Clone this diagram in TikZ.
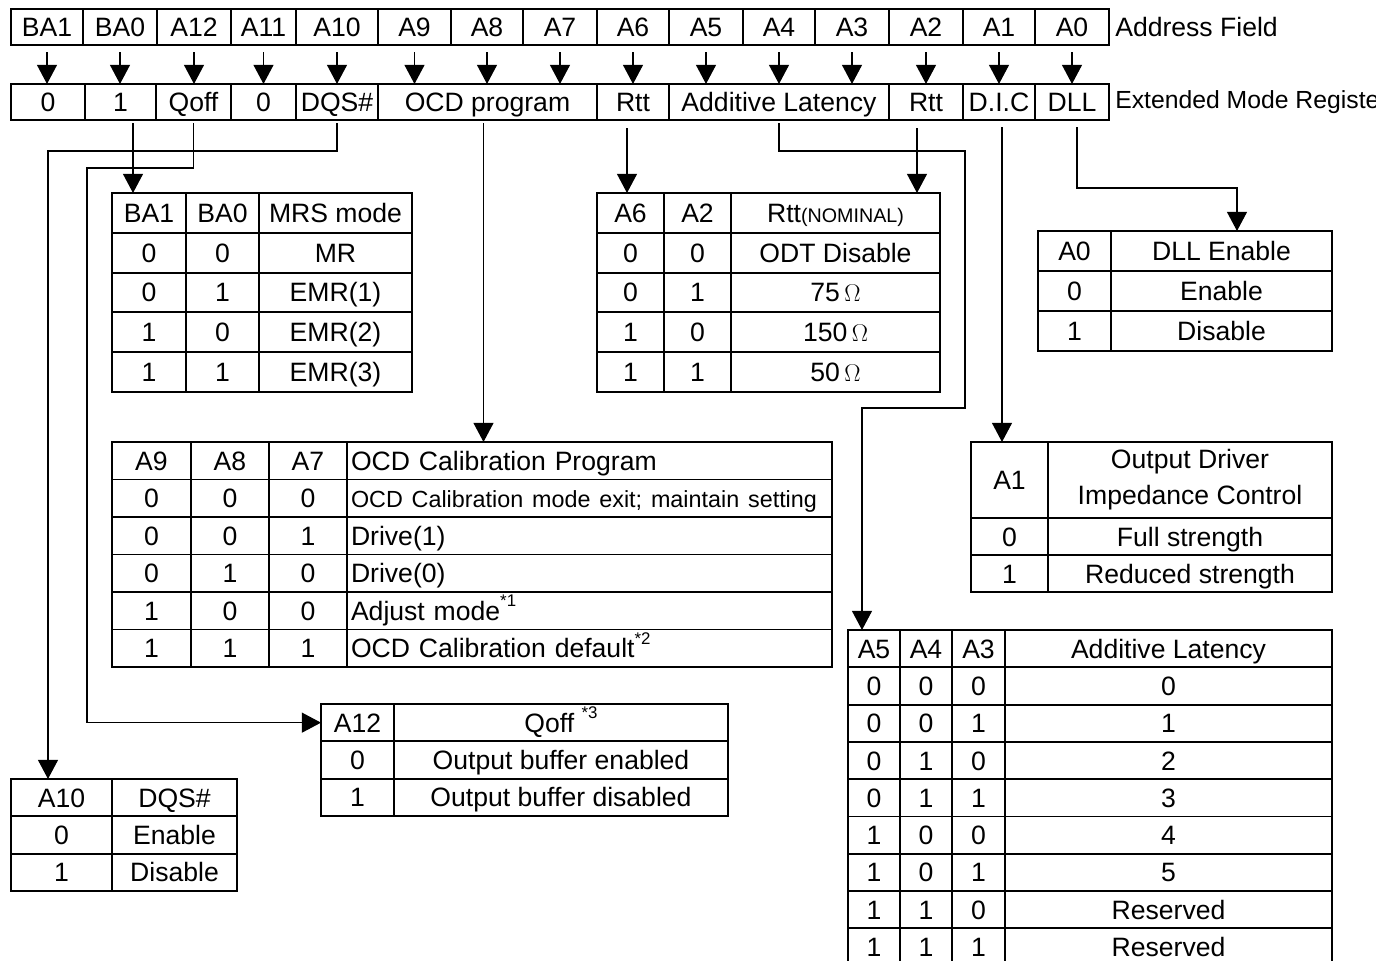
\documentclass[tikz,border=0pt]{standalone}
\usepackage{fontspec}
\setmainfont{Liberation Sans}
\usetikzlibrary{arrows.meta}

\newcommand{\bigtext}{\fontsize{18.9}{21}\selectfont}
\newcommand{\midtext}{\fontsize{16.6}{19}\selectfont}
\newcommand{\smalltext}{\fontsize{14}{15}\selectfont}
\newcommand{\fnmark}[1]{\raisebox{0.5em}{\fontsize{12}{12}\selectfont *#1}}

\tikzset{
    cell/.style 2 args={draw, line width=1.4pt, outer sep=0pt, inner sep=0pt,
        anchor=north west, minimum width=(#1)*0.025cm, minimum height=(#2)*0.025cm,
        text height=13.7pt, text depth=0.2pt, font=\bigtext},
    lefttext/.style={align=left, text width=477*0.025cm},
    wire/.style={line width=1pt},
    pointer/.style={-{Triangle[length=0.48cm, width=0.5cm]}}
}

\begin{document}
\begin{tikzpicture}[x=0.025cm, y=-0.025cm]

    \useasboundingbox (0, 0) rectangle (1376, 961);
    \clip (0, 0) rectangle (1376, 961);
    \fill[white] (0, 0) rectangle (1376, 961);

    % address field
    \foreach \xa/\xb/\lab [count=\i] in {11/83/BA1, 83/157/BA0, 157/231/A12, 231/296/A11,
        296/378/A10, 378/451/A9, 451/523/A8, 523/597/A7, 597/669/A6, 669/743/A5,
        743/815/A4, 815/889/A3, 889/963/A2, 963/1035/A1, 1035/1109/A0}
        \node[cell={\xb-\xa}{36}] (addr\i) at (\xa, 9) {\lab};
    \node[anchor=west, inner sep=0pt, font=\bigtext] (addrtitle) at (1115, 27) {Address Field};

    % extended mode register
    \node[cell={74}{36}] (emrBAone) at (11, 84) {0};
    \node[cell={71}{36}] (emrBAzero) at (85, 84) {1};
    \node[cell={75}{36}] (emrQoff) at (156, 84) {Qoff};
    \node[cell={65}{36}] (emrAeleven) at (231, 84) {0};
    \node[cell={82}{36}] (emrDQS) at (296, 84) {DQS\#};
    \node[cell={219}{36}] (emrOCD) at (378, 84) {OCD program};
    \node[cell={72}{36}] (emrRttSix) at (597, 84) {Rtt};
    \node[cell={220}{36}] (emrAL) at (669, 84) {Additive Latency};
    \node[cell={74}{36}] (emrRttTwo) at (889, 84) {Rtt};
    \node[cell={72}{36}] (emrDIC) at (963, 84) {D.I.C};
    \node[cell={74}{36}] (emrDLL) at (1035, 84) {DLL};
    \node[anchor=west, inner sep=0pt, font=\fontsize{17.6}{19}\selectfont] (emrtitle)
        at (1115, 102) {Extended Mode Register};

    \foreach \i in {1,...,15}
        \draw[wire, pointer] ([yshift=-0.175cm]addr\i.south) -- (addr\i.south |- emrOCD.north);

    % MRS mode
    \foreach \row/\va/\vb/\vc in {0/BA1/BA0/MRS mode, 1/0/0/MR, 2/0/1/EMR(1),
        3/1/0/EMR(2), 4/1/1/EMR(3)} {
        \node[cell={74}{39.8}] (mrs\row-a) at (112, 193+39.8*\row) {\va};
        \node[cell={73}{39.8}] (mrs\row-b) at (186, 193+39.8*\row) {\vb};
        \node[cell={153}{39.8}] (mrs\row-c) at (259, 193+39.8*\row) {\vc};
    }

    % Rtt
    \foreach \row/\va/\vb/\vc in {0/A6/A2/{Rtt{\smalltext(NOMINAL)}}, 1/0/0/ODT Disable,
        2/0/1/75\,$\Omega$, 3/1/0/150\,$\Omega$, 4/1/1/50\,$\Omega$} {
        \node[cell={67}{39.8}] (rtt\row-a) at (597, 193+39.8*\row) {\va};
        \node[cell={67}{39.8}] (rtt\row-b) at (664, 193+39.8*\row) {\vb};
        \node[cell={209}{39.8}] (rtt\row-c) at (731, 193+39.8*\row) {\vc};
    }

    % DLL
    \foreach \row/\va/\vb in {0/A0/DLL Enable, 1/0/Enable, 2/1/Disable} {
        \node[cell={73}{40}] (dll\row-a) at (1038, 231+40*\row) {\va};
        \node[cell={221}{40}] (dll\row-b) at (1111, 231+40*\row) {\vb};
    }

    % OCD program
    \foreach \row/\va/\vb/\vc/\vd in {0/A9/A8/A7/OCD Calibration Program,
        1/0/0/0/{\midtext OCD Calibration mode exit; maintain setting},
        2/0/0/1/Drive(1), 3/0/1/0/Drive(0), 4/1/0/0/Adjust mode\fnmark{1},
        5/1/1/1/OCD Calibration default\fnmark{2}} {
        \node[cell={79}{37.5}] (ocd\row-a) at (112, 442+37.5*\row) {\va};
        \node[cell={78}{37.5}] (ocd\row-b) at (191, 442+37.5*\row) {\vb};
        \node[cell={78}{37.5}] (ocd\row-c) at (269, 442+37.5*\row) {\vc};
        \node[cell={485}{37.5}, lefttext] (ocd\row-d) at (347, 442+37.5*\row) {\vd};
    }

    % D.I.C
    \node[cell={77}{76}] (dic0-a) at (971, 442) {A1};
    \node[cell={284}{76}, text height={}, text depth={}, align=center,
        font=\fontsize{18.9}{25.6}\selectfont] (dic0-b) at (1048, 442)
        {Output Driver\\Impedance Control};
    \foreach \row/\va/\vb in {1/0/Full strength, 2/1/Reduced strength} {
        \node[cell={77}{37}] (dic\row-a) at (971, 481+37*\row) {\va};
        \node[cell={284}{37}] (dic\row-b) at (1048, 481+37*\row) {\vb};
    }

    % additive latency
    \foreach \row/\va/\vb/\vc/\vd in {0/A5/A4/A3/Additive Latency, 1/0/0/0/0, 2/0/0/1/1,
        3/0/1/0/2, 4/0/1/1/3, 5/1/0/0/4, 6/1/0/1/5, 7/1/1/0/Reserved, 8/1/1/1/Reserved} {
        \node[cell={52}{37.3}] (al\row-a) at (848, 630+37.3*\row) {\va};
        \node[cell={52}{37.3}] (al\row-b) at (900, 630+37.3*\row) {\vb};
        \node[cell={53}{37.3}] (al\row-c) at (952, 630+37.3*\row) {\vc};
        \node[cell={327}{37.3}] (al\row-d) at (1005, 630+37.3*\row) {\vd};
    }

    % Qoff
    \foreach \row/\va/\vb in {0/A12/Qoff \fnmark{3}, 1/0/Output buffer enabled,
        2/1/Output buffer disabled} {
        \node[cell={73}{37.3}] (qoff\row-a) at (321, 704+37.3*\row) {\va};
        \node[cell={334}{37.3}] (qoff\row-b) at (394, 704+37.3*\row) {\vb};
    }

    % DQS#
    \foreach \row/\va/\vb in {0/A10/DQS\#, 1/0/Enable, 2/1/Disable} {
        \node[cell={101}{37.3}] (dqs\row-a) at (11, 779+37.3*\row) {\va};
        \node[cell={125}{37.3}] (dqs\row-b) at (112, 779+37.3*\row) {\vb};
    }

    % connectors
    \coordinate (mrsout) at ([xshift=0.3125cm, yshift=-0.075cm]emrBAzero.south);
    \draw[wire, pointer] (mrsout) -- (mrsout |- mrs0-a.north);

    \coordinate (qoffbend) at (87, 168);
    \draw[wire, pointer] ([yshift=-0.075cm]emrQoff.south) |- (qoffbend) |- (qoff0-a.west);

    \coordinate (dqsbend) at (48, 151);
    \draw[wire, pointer] ([yshift=-0.075cm]emrDQS.south) |- (dqsbend)
        -- (dqsbend |- dqs0-a.north);

    \coordinate (ocdout) at ([xshift=-0.1cm, yshift=-0.075cm]emrOCD.south);
    \draw[wire, pointer] (ocdout) -- (ocdout |- ocd0-d.north);

    \coordinate (rttsixout) at ([xshift=-0.15cm, yshift=-0.2cm]emrRttSix.south);
    \draw[wire, pointer] (rttsixout) -- (rttsixout |- rtt0-a.north);

    \coordinate (rtttwoout) at ([xshift=-0.225cm, yshift=-0.2cm]emrRttTwo.south);
    \draw[wire, pointer] (rtttwoout) -- (rtttwoout |- rtt0-c.north);

    \coordinate (albendA) at (965, 151);
    \coordinate (albendB) at (862, 408);
    \draw[wire, pointer] ([yshift=-0.075cm]emrAL.south) |- (albendA) |- (albendB)
        -- (albendB |- al0-a.north);

    \coordinate (dicout) at ([xshift=0.075cm, yshift=-0.175cm]emrDIC.south);
    \draw[wire, pointer] (dicout) -- (dicout |- dic0-a.north);

    \coordinate (dllbend) at (1237, 188);
    \draw[wire, pointer] ([xshift=0.125cm, yshift=-0.175cm]emrDLL.south) |- (dllbend)
        -- (dllbend |- dll0-b.north);

\end{tikzpicture}
\end{document}
